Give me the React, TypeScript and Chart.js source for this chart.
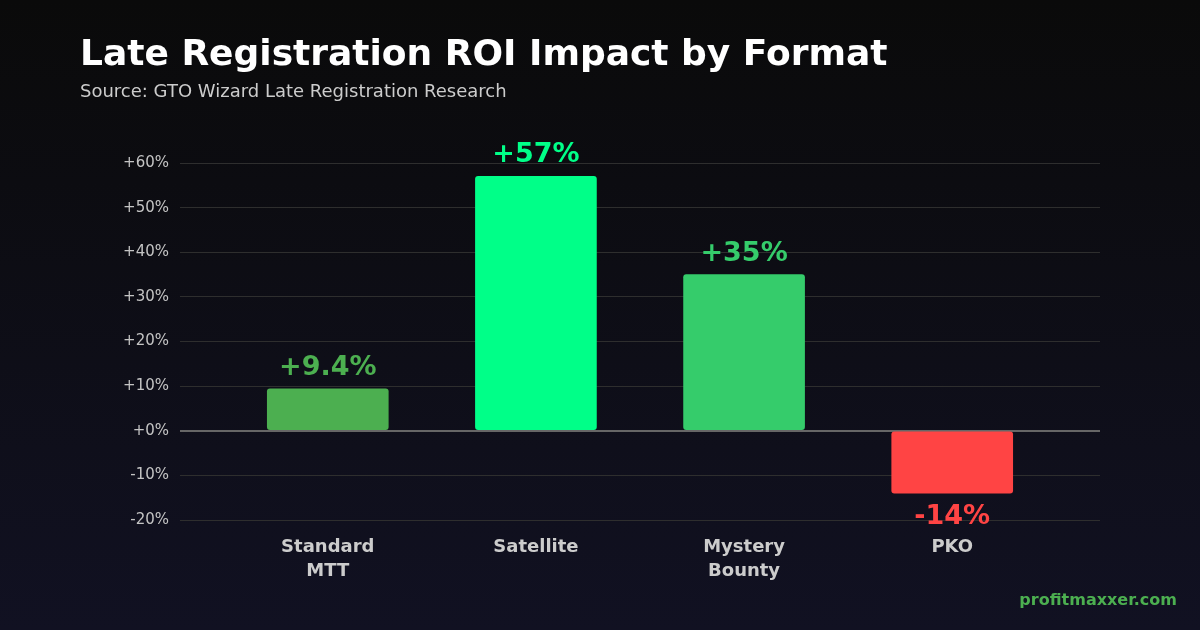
import React, { useEffect, useRef } from "react";
import { Chart, registerables } from "chart.js";

Chart.register(...registerables);

// Format categories (multi-line labels where the name wraps)
const formats: (string | string[])[] = [["Standard", "MTT"], "Satellite", ["Mystery", "Bounty"], "PKO"];
// ROI change from late registration, in percent
const roiImpact: number[] = [9.4, 57, 35, -14];
const valueLabels: string[] = ["+9.4%", "+57%", "+35%", "-14%"];
const barColors: string[] = ["#4caf50", "#00ff88", "#35cc6b", "#ff4444"];
const yTicks: number[] = [-20, -10, 0, 10, 20, 30, 40, 50, 60];

const FONT = "'DejaVu Sans', sans-serif";

const backgroundAndText = {
  id: "backgroundAndText",
  beforeDraw(chart: Chart) {
    const { ctx, width, height } = chart;
    ctx.save();
    const g = ctx.createLinearGradient(0, 0, 0, height);
    g.addColorStop(0, "#0a0a0a");
    g.addColorStop(1, "#111122");
    ctx.fillStyle = g;
    ctx.fillRect(0, 0, width, height);

    ctx.textAlign = "left";
    ctx.textBaseline = "alphabetic";
    ctx.fillStyle = "#ffffff";
    ctx.font = `bold 36px ${FONT}`;
    ctx.fillText("Late Registration ROI Impact by Format", 80, 65);
    ctx.fillStyle = "#cccccc";
    ctx.font = `18px ${FONT}`;
    ctx.fillText("Source: GTO Wizard Late Registration Research", 80, 97);

    ctx.textAlign = "right";
    ctx.fillStyle = "#4caf50";
    ctx.font = `bold 16px ${FONT}`;
    ctx.fillText("profitmaxxer.com", 1177, 605);
    ctx.restore();
  },
};

const valueLabelPlugin = {
  id: "valueLabels",
  afterDatasetsDraw(chart: Chart) {
    const { ctx } = chart;
    const meta = chart.getDatasetMeta(0);
    ctx.save();
    ctx.font = `bold 27px ${FONT}`;
    ctx.textAlign = "center";
    ctx.textBaseline = "alphabetic";
    meta.data.forEach((bar: any, i: number) => {
      const v = roiImpact[i];
      ctx.fillStyle = barColors[i];
      const y = v >= 0 ? bar.y - 14 : bar.y + 31;
      ctx.fillText(valueLabels[i], bar.x, y);
    });
    ctx.restore();
  },
};

export default function App() {
  const canvasRef = useRef<HTMLCanvasElement | null>(null);

  useEffect(() => {
    if (!canvasRef.current) return;
    const chart = new Chart(canvasRef.current, {
      type: "bar",
      data: {
        datasets: [
          {
            data: roiImpact.map((y, i) => ({ x: i, y })),
            backgroundColor: barColors,
            borderRadius: 3,
            borderSkipped: false,
            barThickness: 121,
          },
        ],
      },
      options: {
        responsive: false,
        animation: false,
        layout: { padding: { top: 163, right: 100, left: 0, bottom: 0 } },
        plugins: { legend: { display: false }, tooltip: { enabled: false } },
        scales: {
          x: {
            type: "linear",
            offset: false,
            min: -0.71,
            max: 3.71,
            grid: { display: false, drawTicks: false, offset: false },
            border: { display: false },
            afterBuildTicks: (scale: any) => {
              scale.ticks = formats.map((_, i) => ({ value: i }));
            },
            afterFit: (scale: any) => {
              scale.height = 110;
            },
            ticks: {
              autoSkip: false,
              maxRotation: 0,
              padding: 15,
              color: "#cccccc",
              font: { family: FONT, size: 18, weight: "bold", lineHeight: 1.33 },
              callback: (v: any) => formats[v as number] ?? "",
            },
          },
          y: {
            min: -20,
            max: 60,
            afterBuildTicks: (scale: any) => {
              scale.ticks = yTicks.map((value) => ({ value }));
            },
            afterFit: (scale: any) => {
              scale.width = 180;
            },
            border: { display: false },
            grid: {
              drawTicks: false,
              color: (c: any) => (c.tick && c.tick.value === 0 ? "#666666" : "#2e2e2e"),
              lineWidth: (c: any) => (c.tick && c.tick.value === 0 ? 2 : 1),
            },
            ticks: {
              padding: 11,
              color: "#c4c4c4",
              font: { family: FONT, size: 15 },
              callback: (v: any) => `${(v as number) >= 0 ? "+" : ""}${v}%`,
            },
          },
        },
      },
      plugins: [backgroundAndText, valueLabelPlugin],
    } as any);
    return () => chart.destroy();
  }, []);

  return (
    <div style={{ position: "absolute", left: 0, top: 0, width: 1200, height: 630 }}>
      <canvas ref={canvasRef} width={1200} height={630} />
    </div>
  );
}
